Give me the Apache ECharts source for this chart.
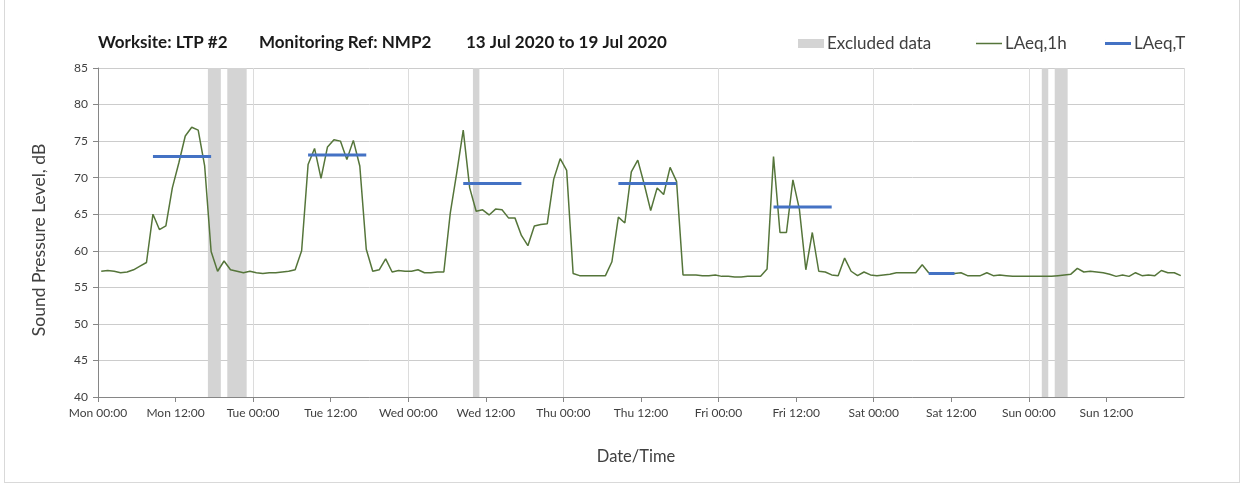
<!DOCTYPE html>
<html>
<head>
<meta charset="utf-8">
<script src="https://cdn.jsdelivr.net/npm/echarts@6/dist/echarts.min.js"></script>
<style>
  html, body { margin: 0; padding: 0; background: #fff; }
  #frame { position: absolute; left: 4px; top: -1px; width: 1236px; height: 484px; border: 1px solid #d9d9d9; box-sizing: border-box; }
  #chart { position: absolute; left: 0; top: 0; width: 1243px; height: 486px; }
</style>
</head>
<body>
<div id="frame"></div>
<div id="chart"></div>
<script>
// hourly LAeq,1h, Mon 00:00 -> Sun 23:00 (one value per hour)
const laeq1h = [
  57.2, 57.3, 57.2, 57.0, 57.1, 57.4, 57.9, 58.4, 65.0, 62.9, 63.4, 68.6, 72.0, 75.7, 76.9, 76.5, 71.6, 59.9, 57.2, 58.6, 57.4, 57.2, 57.0, 57.2,
  57.0, 56.9, 57.0, 57.0, 57.1, 57.2, 57.4, 60.0, 71.8, 74.0, 69.9, 74.2, 75.2, 75.0, 72.5, 75.1, 71.6, 60.2, 57.2, 57.4, 58.9, 57.1, 57.3, 57.2,
  57.2, 57.4, 57.0, 57.0, 57.1, 57.1, 65.2, 70.7, 76.5, 68.6, 65.4, 65.6, 64.9, 65.7, 65.6, 64.5, 64.5, 62.1, 60.7, 63.4, 63.6, 63.7, 69.8, 72.6,
  71.0, 56.9, 56.6, 56.6, 56.6, 56.6, 56.6, 58.5, 64.6, 63.8, 70.8, 72.4, 69.1, 65.5, 68.6, 67.7, 71.4, 69.5, 56.7, 56.7, 56.7, 56.6, 56.6, 56.7,
  56.5, 56.5, 56.4, 56.4, 56.5, 56.5, 56.5, 57.5, 72.9, 62.5, 62.5, 69.7, 65.7, 57.4, 62.5, 57.2, 57.1, 56.7, 56.6, 59.0, 57.2, 56.6, 57.1, 56.7,
  56.6, 56.7, 56.8, 57.0, 57.0, 57.0, 57.0, 58.1, 57.0, 57.0, 56.8, 57.0, 56.9, 57.0, 56.6, 56.6, 56.6, 57.0, 56.6, 56.7, 56.6, 56.5, 56.5, 56.5,
  56.5, 56.5, 56.5, 56.5, 56.6, 56.7, 56.8, 57.6, 57.1, 57.2, 57.1, 57.0, 56.8, 56.5, 56.7, 56.5, 57.0, 56.6, 56.7, 56.6, 57.3, 57.0, 57.0, 56.6
];

// LAeq,T periods (hours from Mon 00:00)
const ltStart = [8.5, 32.5, 56.5, 80.5, 104.5, 128.5];
const ltEnd = [17.5, 41.5, 65.5, 89.5, 113.5, 132.5];
const ltValue = [72.9, 73.1, 69.2, 69.2, 66.0, 56.9];

// excluded periods (hours from Mon 00:00)
const exclStart = [17, 20, 58, 146, 148];
const exclEnd = [19, 23, 59, 147, 150];

const dayNames = ["Mon", "Tue", "Wed", "Thu", "Fri", "Sat", "Sun"];
const yTicks = [40, 45, 50, 55, 60, 65, 70, 75, 80, 85];
const titleParts = ["Worksite: LTP #2", "Monitoring Ref: NMP2", "13 Jul 2020 to 19 Jul 2020"];

const font = "Lato";
const greenColor = "#55753a";
const blueColor = "#4472c4";
const greyBand = "#d4d4d4";

const myChart = echarts.init(document.getElementById("chart"));

const hourlyData = laeq1h.map((v, i) => [i + 0.5, v]);

const ltData = [];
ltValue.forEach((v, i) => {
  ltData.push([ltStart[i], v], [ltEnd[i], v], [ltEnd[i], "-"]);
});

// thin line swatch for the legend (tiny sliver keeps the box 26x9)
const lineIcon = (h) => `path://M0,0 H0.01 V9 H0 Z M0,${4.5 - h / 2} H26 V${4.5 + h / 2} H0 Z`;

const legendBase = {
  top: 35,
  padding: 0,
  itemWidth: 26,
  itemHeight: 9,
  textStyle: { fontFamily: font, fontSize: 17, color: "#404040", padding: [0, 0, 0, -2] },
};

const titleLefts = [93, 254, 461];

const options = {
  animation: false,
  title: titleParts.map((t, i) => ({
    text: t,
    left: titleLefts[i],
    top: 29,
    textStyle: { fontFamily: font, fontSize: 17, fontWeight: "bold", color: "#1a1a1a" },
  })),
  legend: [
    { ...legendBase, left: 798, data: [{ name: "Excluded data", icon: "rect", itemStyle: { color: greyBand } }] },
    { ...legendBase, left: 976, data: [{ name: "LAeq,1h", icon: lineIcon(1.5) }] },
    { ...legendBase, left: 1105, data: [{ name: "LAeq,T", icon: lineIcon(3) }] },
  ],
  grid: { left: 98, right: 59, top: 68, bottom: 89 },
  xAxis: [
    {
      type: "value",
      min: 0,
      max: 168,
      interval: 12,
      name: "Date/Time",
      nameLocation: "middle",
      nameGap: 51,
      nameTextStyle: { fontFamily: font, fontSize: 16.5, color: "#404040", padding: [0, 10, 0, 0] },
      axisLine: { lineStyle: { color: "#868686" } },
      axisTick: { show: true, length: 5, lineStyle: { color: "#868686" } },
      axisLabel: {
        fontFamily: font,
        fontSize: 12,
        color: "#404040",
        margin: 10,
        showMaxLabel: false,
        formatter: (v) => dayNames[Math.floor(v / 24) % 7] + " " + (v % 24 === 0 ? "00:00" : "12:00"),
      },
      splitLine: { show: false },
    },
    {
      // day gridlines only
      type: "value",
      min: 0,
      max: 168,
      interval: 24,
      position: "bottom",
      axisLine: { show: false },
      axisTick: { show: false },
      axisLabel: { show: false },
      splitLine: { show: true, lineStyle: { color: "#dcdcdc" } },
    },
  ],
  yAxis: {
    type: "value",
    min: yTicks[0],
    max: yTicks[yTicks.length - 1],
    interval: 5,
    name: "Sound Pressure Level, dB",
    nameLocation: "middle",
    nameGap: 50,
    nameTextStyle: { fontFamily: font, fontSize: 17.5, color: "#404040", padding: [0, 15, 0, 0] },
    axisLine: { show: true, lineStyle: { color: "#868686" } },
    axisTick: { show: true, length: 5, lineStyle: { color: "#868686" } },
    axisLabel: { fontFamily: font, fontSize: 12, color: "#404040", margin: 10 },
    splitLine: { lineStyle: { color: "#cccccc" } },
  },
  series: [
    {
      name: "Excluded data",
      type: "line",
      data: [],
      itemStyle: { color: greyBand },
      markArea: {
        silent: true,
        itemStyle: { color: greyBand },
        data: exclStart.map((s, i) => [{ xAxis: s }, { xAxis: exclEnd[i] }]),
      },
    },
    {
      name: "LAeq,1h",
      type: "line",
      data: hourlyData,
      showSymbol: false,
      symbol: "none",
      itemStyle: { color: greenColor },
      lineStyle: { color: greenColor, width: 1.5 },
      z: 3,
    },
    {
      name: "LAeq,T",
      type: "line",
      data: ltData,
      showSymbol: false,
      symbol: "none",
      connectNulls: false,
      itemStyle: { color: blueColor },
      lineStyle: { color: blueColor, width: 3 },
      z: 4,
    },
  ],
};

myChart.setOption(options);
</script>
</body>
</html>
